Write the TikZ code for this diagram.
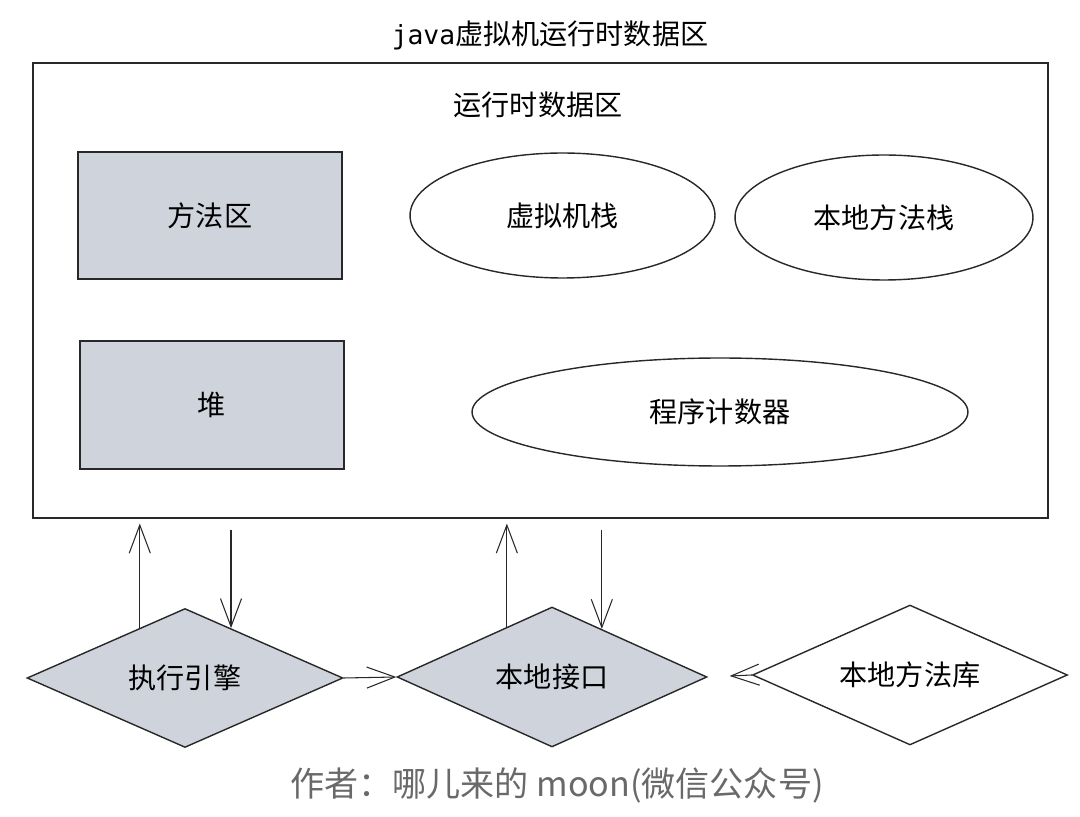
\documentclass[tikz,border=0pt]{standalone}
\usepackage{fontspec}
\setmainfont{Noto Sans CJK SC}
\newfontfamily\javafont{DejaVu Sans Mono}
\usepackage{tikz}
\usetikzlibrary{arrows,arrows.meta,shapes,positioning,calc}
\usepackage{xcolor}
\definecolor{jvmgray}{RGB}{207,212,220}
\definecolor{notegray}{RGB}{105,105,105}
\definecolor{jvmline}{RGB}{40,40,40}
\tikzstyle{arrow} = [line width=0.6pt,-{Straight Barb[length=16pt,width=12pt]},color=jvmline]
\tikzstyle{area} = [draw=jvmline, line width=0.8pt, fill=jvmgray, inner sep=0pt]

\begin{document}
\begin{tikzpicture}[x=0.02cm, y=-0.02cm, font=\fontsize{16}{18}\selectfont]
\useasboundingbox (0,0) rectangle (1080,817);
% Runtime data area
\node at (550,35) (title) {{\javafont\fontsize{15}{18}\selectfont java}虚拟机运行时数据区};
\node[draw=jvmline, line width=0.7pt, minimum width=20.3cm, minimum height=9.1cm] at (540.5,290.5) (data) {};
\node at (538,105) (datatitle) {运行时数据区};

\node[area, rectangle, minimum width=5.28cm, minimum height=2.54cm] at (210,215.5) (method) {方法区};
\node[area, rectangle, minimum width=5.28cm, minimum height=2.56cm] at (212,405) (heap) {堆};

\node[draw=jvmline, line width=0.8pt, ellipse, inner sep=0pt, minimum width=6.1cm, minimum height=2.5cm] at (562.5,215.5) (vmstack) {虚拟机栈};
\node[draw=jvmline, line width=0.8pt, ellipse, inner sep=0pt, minimum width=5.96cm, minimum height=2.5cm] at (884,217.5) (nstack) {本地方法栈};
\node[draw=jvmline, line width=0.8pt, ellipse, inner sep=0pt, minimum width=9.92cm, minimum height=2.16cm] at (720,412) (pc) {程序计数器};

% Engine and native parts
\node[area, diamond, aspect=2.25, minimum width=6.32cm, minimum height=2.78cm] at (185,678) (exec) {执行引擎};
\node[area, diamond, aspect=2.25, minimum width=6.2cm, minimum height=2.8cm] at (552,677) (iface) {本地接口};
\node[area, diamond, aspect=2.25, fill=white, minimum width=6.3cm, minimum height=2.8cm] at (910,675) (lib) {本地方法库};

\coordinate (e1) at ($(exec.west)!0.715!(exec.north)$);
\coordinate (e2) at ($(exec.north)!0.29!(exec.east)$);
\coordinate (i1) at ($(iface.west)!0.71!(iface.north)$);
\coordinate (i2) at ($(iface.north)!0.32!(iface.east)$);

\draw[arrow, shorten >=0.1cm] (e1) -- (e1 |- data.south);
\draw[arrow, shorten <=0.22cm] (e2 |- data.south) -- (e2);
\draw[arrow, shorten >=0.1cm] (i1) -- (i1 |- data.south);
\draw[arrow, shorten <=0.22cm] (i2 |- data.south) -- (i2);

\draw[arrow] (exec.east) -- (iface.west);
\draw[arrow, shorten >=0.44cm] (lib.west) -- (iface.east);

% Footer
\node[notegray, font=\fontsize{19.4}{22}\selectfont] at (557,785) (note) {作者：哪儿来的 moon(微信公众号)};
\end{tikzpicture}
\end{document}
